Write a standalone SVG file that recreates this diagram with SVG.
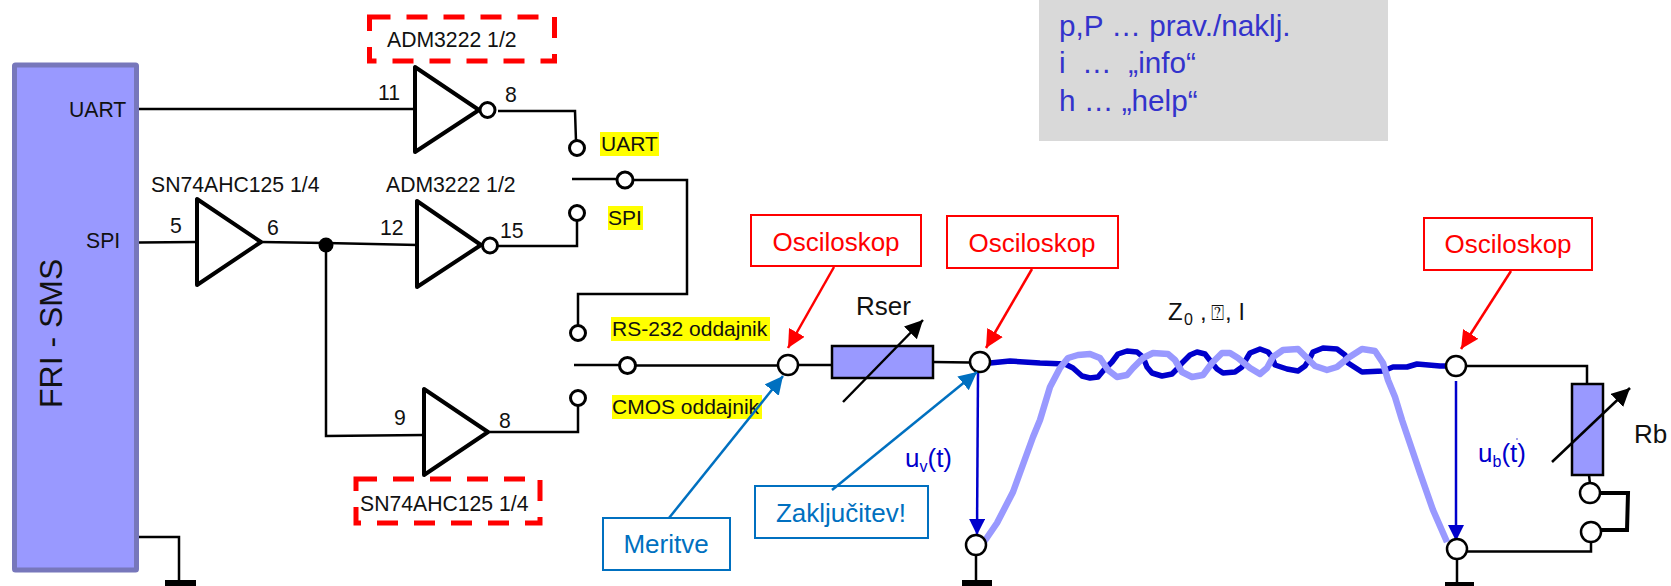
<svg xmlns="http://www.w3.org/2000/svg" width="1671" height="586" viewBox="0 0 1671 586">
<style>
text{font-family:"Liberation Sans",Arial,sans-serif;fill:#111}
.s{font-size:21.200px}.h{font-size:21px}.m{font-size:26px}
.rt{fill:#f00;font-size:26px;text-anchor:middle}.bt{fill:#0070c0;font-size:26px;text-anchor:middle}
.ut{fill:#0000cc;font-size:26px}.gt{fill:#3333cc;font-size:29.700px}
.w{fill:none;stroke:#000;stroke-width:2.5}
.gate{fill:#fff;stroke:#000;stroke-width:4;stroke-linejoin:round}
.pin{fill:#fff;stroke:#000;stroke-width:3}.node{fill:#fff;stroke:#000;stroke-width:2.5}
.gnd{fill:#000}.res{fill:#9999ff;stroke:#000;stroke-width:2.5}
.osc{fill:#fff;stroke:#f00;stroke-width:2}.box{fill:#fff;stroke:#0070c0;stroke-width:2}
.dash{fill:none;stroke:#f00;stroke-width:5;stroke-dasharray:21 16}.hl{fill:#ff0}
.ar{stroke:#f00;stroke-width:2.5;fill:none;marker-end:url(#mr)}.ab{stroke:#0070c0;stroke-width:2.5;fill:none;marker-end:url(#mb)}
.ak{stroke:#000;stroke-width:2.5;fill:none;marker-end:url(#mk)}.au{stroke:#0000cc;stroke-width:2.5;fill:none;marker-end:url(#mu)}
.dark{fill:none;stroke:#0000cc;stroke-width:5.500;stroke-linejoin:round;stroke-linecap:round}
.light{fill:none;stroke:#9999ff;stroke-width:6.500;stroke-linejoin:round;stroke-linecap:butt}
</style>
<defs>
<marker id="mr" markerUnits="userSpaceOnUse" markerWidth="20" markerHeight="20" refX="18" refY="9" orient="auto"><path d="M0 0L18 9L0 18Z" fill="#f00"/></marker>
<marker id="mb" markerUnits="userSpaceOnUse" markerWidth="20" markerHeight="20" refX="18" refY="9" orient="auto"><path d="M0 0L18 9L0 18Z" fill="#0070c0"/></marker>
<marker id="mk" markerUnits="userSpaceOnUse" markerWidth="20" markerHeight="20" refX="18" refY="9" orient="auto"><path d="M0 0L18 9L0 18Z" fill="#000"/></marker>
<marker id="mu" markerUnits="userSpaceOnUse" markerWidth="20" markerHeight="20" refX="16" refY="8" orient="auto"><path d="M0 0L16 8L0 16Z" fill="#0000cc"/></marker>
</defs>

<g id="connectors">
<path class="w" d="M137 109H415"/>
<path class="w" d="M498 111H575L576 141"/>
<path class="w" d="M139 242.500L197 242"/>
<path class="w" d="M261 242L326 243L418 245"/>
<path class="w" d="M498 246H577V221"/>
<path class="w" d="M326 245V436L424 435"/>
<path class="w" d="M488 432H578V405"/>
<path class="w" d="M139 537H179V580"/>
<path class="w" d="M572 179H617M633 180H687V294H578V325"/>
<path class="w" d="M574 365H620M635 365.500H778M798 365H832M933 362L970 362.500"/>
<path class="w" d="M976 555V580"/>
<path class="w" d="M1466 366H1587V384M1589 475L1590 484"/>
<path class="w" d="M1591 542V551.500H1467M1457 559V582"/>
<path d="M1600 493H1628L1627 530H1600" fill="none" stroke="#000" stroke-width="4"/>
<path class="dark" d="M990 363L1010 361L1040 363L1065 364L1073 368L1082 376L1090 378L1098 377L1103 371L1112 362L1118 354L1127 351L1137 352L1143 357L1147 367L1152 373L1162 376L1172 374L1177 369L1182 363L1190 355L1197 352L1205 354L1212 363L1217 369L1223 373L1235 372L1242 367L1247 358L1250 353L1260 349L1268 352L1272 357L1275 365L1287 369L1298 371L1305 366L1310 358L1313 352L1323 348L1337 349L1345 355L1348 363L1362 372L1383 371L1393 367L1407 367L1417 364L1440 366L1447 366"/>
<path class="light" d="M984 542L997 523L1013 492L1033 437L1040 420L1050 387L1060 368L1068 358L1078 355L1090 354L1100 358L1108 370L1117 377L1127 375L1133 368L1143 358L1153 353L1168 354L1175 360L1182 372L1192 377L1203 375L1212 363L1222 353L1230 353L1238 358L1250 368L1260 374L1267 368L1273 357L1283 350L1298 349L1307 358L1315 366L1327 370L1337 367L1348 358L1362 349L1375 351L1383 363L1388 380L1395 397L1402 420L1420 473L1433 510L1447 542"/>
<path class="au" d="M978 372L977 535"/>
<path class="au" d="M1456 381V541"/>
<path class="ar" d="M834 267L788 348"/>
<path class="ar" d="M1032 269L986 348"/>
<path class="ar" d="M1511 271L1461 349"/>
</g>

<g id="fri-sms"><rect x="14.500" y="65" width="122" height="505" rx="1" fill="#9999ff" stroke="#7777bb" stroke-width="5"/>
<text transform="translate(61.500 408) rotate(-90)" font-size="32">FRI - SMS</text>
<text class="s" x="69" y="117">UART</text><text class="s" x="86" y="248">SPI</text></g>
<g id="gnd-fri"><rect class="gnd" x="165" y="580" width="31" height="6"/></g>

<g id="info-box"><rect x="1039" y="0" width="349" height="141" fill="#d9d9d9"/>
<text class="gt" x="1059" y="36">p,P … prav./naklj.</text>
<text class="gt" x="1059" y="73" xml:space="preserve">i  …  „info“</text>
<text class="gt" x="1059" y="111">h … „help“</text></g>

<g id="label-adm-top"><rect class="dash" x="369.500" y="17" width="185" height="44"/><text class="s" x="387" y="47">ADM3222 1/2</text></g>
<g id="inverter-uart"><path class="gate" d="M415 67V152L479 110Z"/><circle class="pin" cx="487.500" cy="110" r="7.500"/>
<text class="s" x="378" y="100">11</text><text class="s" x="505" y="102">8</text></g>
<g id="buffer-spi"><path class="gate" d="M197 199V285L261 242Z"/>
<text class="s" x="151" y="192">SN74AHC125 1/4</text><text class="s" x="170" y="233">5</text><text class="s" x="267" y="235">6</text></g>
<g id="junction"><circle cx="326" cy="245" r="7.500" fill="#000"/></g>
<g id="inverter-spi"><path class="gate" d="M417 201V287L481 245Z"/><circle class="pin" cx="490" cy="245.500" r="7.500"/>
<text class="s" x="386" y="192">ADM3222 1/2</text><text class="s" x="380" y="235">12</text><text class="s" x="500" y="238">15</text></g>
<g id="buffer-cmos"><path class="gate" d="M424 389V475L488 432Z"/><text class="s" x="394" y="425">9</text><text class="s" x="499" y="428">8</text></g>
<g id="label-sn-bottom"><rect class="dash" x="356" y="479" width="184" height="44"/><text class="s" x="360" y="511">SN74AHC125 1/4</text></g>

<g id="switch-uart"><circle class="pin" cx="577" cy="148" r="7.500"/><rect class="hl" x="600" y="132" width="59" height="24"/><text class="h" x="601" y="151">UART</text></g>
<g id="switch-top"><circle class="pin" cx="625" cy="180" r="8"/></g>
<g id="switch-spi"><circle class="pin" cx="577" cy="213" r="7.500"/><rect class="hl" x="608" y="206" width="35" height="24"/><text class="h" x="608" y="225">SPI</text></g>
<g id="switch-rs232"><circle class="pin" cx="578" cy="333" r="7.500"/><rect class="hl" x="611" y="317" width="159" height="24"/><text class="h" x="612" y="336">RS-232 oddajnik</text></g>
<g id="switch-bottom"><circle class="pin" cx="627.500" cy="365.500" r="8"/></g>
<g id="switch-cmos"><circle class="pin" cx="578" cy="398" r="7.500"/><rect class="hl" x="612" y="395" width="150" height="24"/><text class="h" x="612" y="414">CMOS oddajnik</text></g>

<g id="osc-1"><rect class="osc" x="751" y="215" width="170" height="51"/><text class="rt" x="836" y="251">Osciloskop</text></g>
<g id="osc-2"><rect class="osc" x="947" y="216" width="171" height="52"/><text class="rt" x="1032" y="252">Osciloskop</text></g>
<g id="osc-3"><rect class="osc" x="1424" y="218" width="168" height="52"/><text class="rt" x="1508" y="253">Osciloskop</text></g>

<g id="rser"><rect class="res" x="832" y="346" width="101" height="32"/><path class="ak" d="M843 402L923 320"/><text class="m" x="856" y="315">Rser</text></g>
<g id="node-in"><circle class="node" cx="788" cy="365" r="10"/></g>
<g id="node-out"><circle class="node" cx="980" cy="362" r="10"/></g>
<g id="node-out-gnd"><circle class="node" cx="976" cy="545" r="10"/><rect class="gnd" x="962" y="580" width="30" height="6"/></g>
<g id="meritve"><rect class="box" x="603" y="518" width="127" height="52"/><text class="bt" x="666" y="553">Meritve</text></g>
<g id="zakljucitev"><rect class="box" x="755" y="486" width="173" height="52"/><text class="bt" x="841" y="522">Zaključitev!</text></g>
<path class="ab" d="M669 518L783 376"/>
<path class="ab" d="M832 490L977 372"/>
<g id="uv"><text class="ut" x="905" y="467">u<tspan font-size="16" dy="5">v</tspan><tspan dy="-5">(t)</tspan></text></g>
<g id="line-label"><text font-size="24" y="320"><tspan x="1168">Z</tspan><tspan x="1184" dy="5" font-size="16">0</tspan><tspan x="1200" dy="-5">,</tspan><tspan x="1211" font-size="22" font-family="DejaVu Sans">⍰</tspan><tspan x="1225">,</tspan><tspan x="1239">l</tspan></text></g>

<g id="node-end"><circle class="node" cx="1456" cy="366" r="10"/></g>
<g id="node-end-gnd"><circle class="node" cx="1457" cy="549" r="10"/><rect class="gnd" x="1445" y="582" width="29" height="4"/></g>
<g id="ub"><text class="ut" x="1478" y="462">u<tspan font-size="16" dy="5">b</tspan><tspan dy="-5">(t)</tspan></text><circle cx="1517" cy="439" r="0.700" fill="#0000cc"/></g>
<g id="rb"><rect class="res" x="1572" y="384" width="31" height="91"/><path class="ak" d="M1552 462L1630 388"/><text class="m" x="1634" y="443">Rb</text></g>
<g id="jumper"><circle class="node" cx="1590" cy="493" r="10"/><circle class="node" cx="1591" cy="532" r="10"/></g>
</svg>
